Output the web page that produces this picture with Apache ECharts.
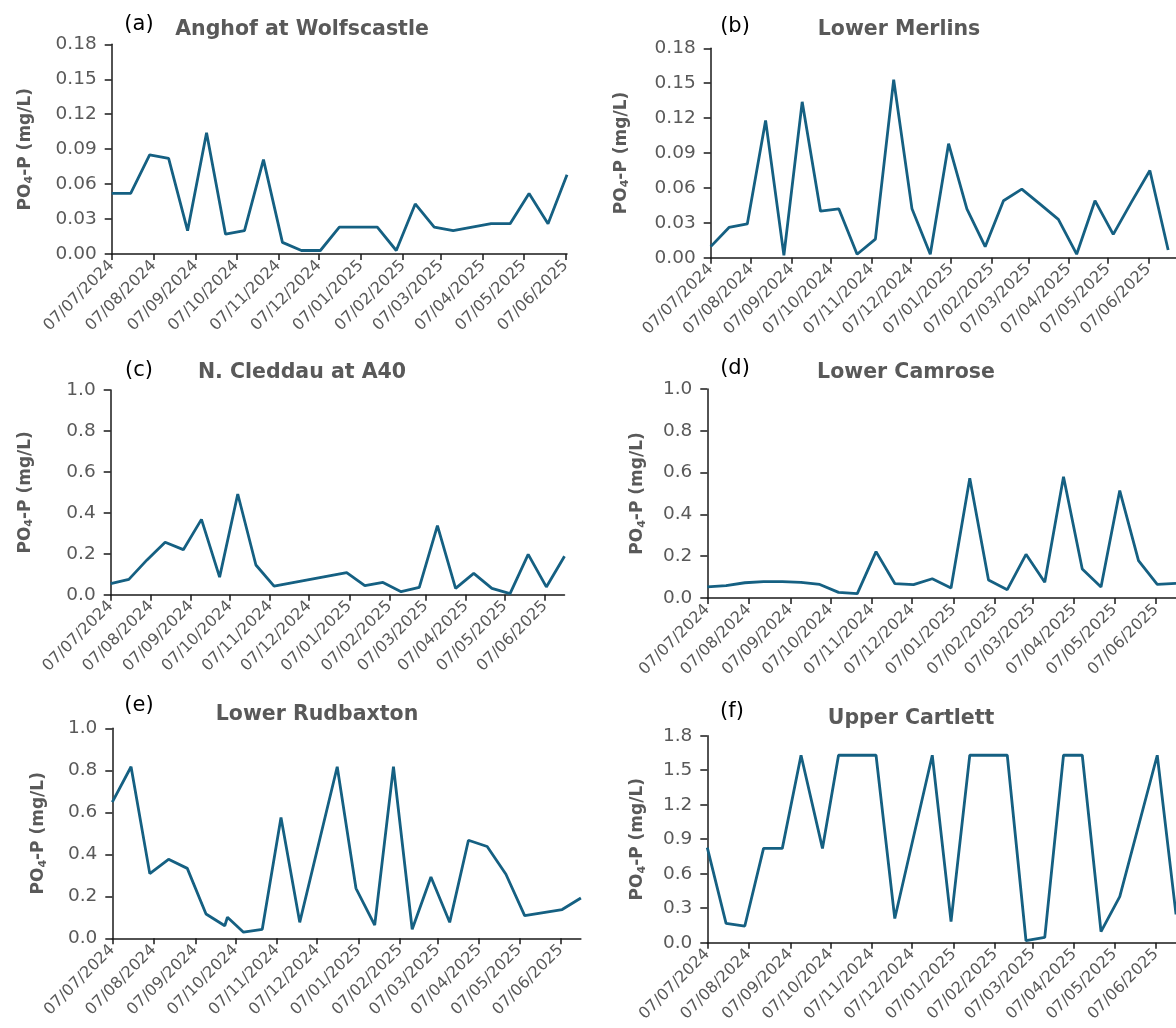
<!DOCTYPE html>
<html><head><meta charset="utf-8">
<script src="https://cdn.jsdelivr.net/npm/echarts@6/dist/echarts.min.js"></script>
<style>html,body{margin:0;padding:0;background:#fff}#c{width:1176px;height:1028px}</style>
</head><body><div id="c"></div>
<script>
// ---------- DATA ----------
const tickLabels = ['07/07/2024','07/08/2024','07/09/2024','07/10/2024','07/11/2024','07/12/2024',
  '07/01/2025','07/02/2025','07/03/2025','07/04/2025','07/05/2025','07/06/2025'];

const datesA = ['07/07/2024','21/07/2024','04/08/2024','18/08/2024','01/09/2024','15/09/2024','29/09/2024',
  '13/10/2024','27/10/2024','10/11/2024','24/11/2024','08/12/2024','22/12/2024','05/01/2025','19/01/2025',
  '02/02/2025','16/02/2025','02/03/2025','16/03/2025','30/03/2025','13/04/2025','27/04/2025','11/05/2025',
  '25/05/2025','08/06/2025'];
const valuesA = [0.052,0.052,0.085,0.082,0.020,0.104,0.017,0.020,0.081,0.010,0.003,0.003,0.023,0.023,0.023,
  0.003,0.043,0.023,0.020,0.023,0.026,0.026,0.052,0.026,0.068];

const datesB = ['07/07/2024','21/07/2024','04/08/2024','18/08/2024','01/09/2024','15/09/2024','29/09/2024',
  '13/10/2024','27/10/2024','10/11/2024','24/11/2024','08/12/2024','22/12/2024','05/01/2025','19/01/2025',
  '02/02/2025','16/02/2025','02/03/2025','16/03/2025','30/03/2025','13/04/2025','27/04/2025','11/05/2025',
  '25/05/2025','08/06/2025','22/06/2025'];
const valuesB = [0.0095,0.026,0.029,0.118,0.002,0.134,0.040,0.042,0.003,0.016,0.153,0.042,0.003,0.098,0.042,
  0.0095,0.049,0.059,0.046,0.033,0.003,0.049,0.020,0.048,0.075,0.0066];

const datesC = ['07/07/2024','21/07/2024','04/08/2024','18/08/2024','01/09/2024','15/09/2024','29/09/2024',
  '13/10/2024','27/10/2024','10/11/2024','05/01/2025','19/01/2025','02/02/2025','16/02/2025','02/03/2025',
  '16/03/2025','30/03/2025','13/04/2025','27/04/2025','11/05/2025','25/05/2025','08/06/2025','22/06/2025'];
const valuesC = [0.054,0.075,0.17,0.256,0.22,0.368,0.086,0.492,0.145,0.042,0.108,0.044,0.060,0.015,0.036,
  0.337,0.031,0.104,0.031,0.005,0.197,0.038,0.188];

const datesD = ['07/07/2024','21/07/2024','04/08/2024','18/08/2024','01/09/2024','15/09/2024','29/09/2024',
  '13/10/2024','27/10/2024','10/11/2024','24/11/2024','08/12/2024','22/12/2024','05/01/2025','19/01/2025',
  '02/02/2025','16/02/2025','02/03/2025','16/03/2025','30/03/2025','13/04/2025','27/04/2025','11/05/2025',
  '25/05/2025','08/06/2025','22/06/2025'];
const valuesD = [0.053,0.059,0.073,0.078,0.078,0.075,0.065,0.027,0.021,0.222,0.069,0.064,0.092,0.048,0.573,
  0.086,0.040,0.209,0.075,0.580,0.139,0.053,0.514,0.179,0.065,0.070];

const datesE = ['07/07/2024','21/07/2024','04/08/2024','18/08/2024','01/09/2024','15/09/2024','29/09/2024',
  '01/10/2024','13/10/2024','27/10/2024','10/11/2024','24/11/2024','22/12/2024','05/01/2025','19/01/2025',
  '02/02/2025','16/02/2025','02/03/2025','16/03/2025','30/03/2025','13/04/2025','27/04/2025','11/05/2025',
  '08/06/2025','22/06/2025'];
const valuesE = [0.648,0.817,0.308,0.376,0.333,0.116,0.060,0.100,0.029,0.043,0.575,0.076,0.817,0.238,0.063,
  0.817,0.043,0.292,0.076,0.467,0.437,0.305,0.108,0.137,0.192];

const datesF = ['07/07/2024','21/07/2024','04/08/2024','18/08/2024','01/09/2024','15/09/2024','01/10/2024',
  '13/10/2024','27/10/2024','10/11/2024','24/11/2024','22/12/2024','05/01/2025','19/01/2025','02/02/2025',
  '16/02/2025','02/03/2025','16/03/2025','30/03/2025','13/04/2025','27/04/2025','11/05/2025','08/06/2025',
  '22/06/2025'];
const valuesF = [0.826,0.168,0.145,0.82,0.82,1.63,0.82,1.63,1.63,1.63,0.21,1.63,0.183,1.63,1.63,1.63,0.017,
  0.046,1.63,1.63,0.096,0.40,1.63,0.246];

const panelLetters = ['(a)','(b)','(c)','(d)','(e)','(f)'];
const panelTitles = ['Anghof at Wolfscastle','Lower Merlins','N. Cleddau at A40','Lower Camrose','Lower Rudbaxton','Upper Cartlett'];
const axisStart = '07/07/2024';
const axisEnds = ['08/06/2025','28/06/2025','22/06/2025','22/06/2025','22/06/2025','22/06/2025'];
const yMax = [0.18,0.18,1.0,1.0,1.0,1.8];
const yStep = [0.03,0.03,0.2,0.2,0.2,0.3];

// ---------- BUILD ----------
function toTs(s){const p=s.split('/').map(Number);return Date.UTC(p[2],p[1]-1,p[0]);}
const tickTs = tickLabels.map(toTs);
const labelMap = {}; tickTs.forEach((t,i)=>labelMap[t]=tickLabels[i]);
const allDates = [datesA,datesB,datesC,datesD,datesE,datesF];
const allVals = [valuesA,valuesB,valuesC,valuesD,valuesE,valuesF];

const FONT = '"DejaVu Sans", "Liberation Sans", sans-serif';
const GRAY = '#595959';
const LINE = '#156082';

// layout (px)
const layout = [
  {l:111.7,t:44.3, w:455.3,h:209.7, gap:77, lx:139,ly:25, tx:302,ty:30},
  {l:710.7,t:48.3, w:465.3,h:209.4, gap:80, lx:735,ly:27, tx:899,ty:30},
  {l:110.7,t:390,  w:453.8,h:204.7, gap:76, lx:139,ly:371, tx:302,ty:373},
  {l:707.3,t:389,  w:468.7,h:209,   gap:60, lx:735,ly:369, tx:906,ty:373},
  {l:112.3,t:728.3,w:468.6,h:210,   gap:64, lx:139,ly:706, tx:317,ty:715},
  {l:707.3,t:735.7,w:468.7,h:207,   gap:60, lx:732,ly:712, tx:911,ty:719}
];

const grid=[],xAxis=[],yAxis=[],series=[],graphic=[];
layout.forEach((L,i)=>{
  grid.push({left:L.l,top:L.t,width:L.w,height:L.h,containLabel:false});
  xAxis.push({type:'value',gridIndex:i,min:toTs(axisStart),max:toTs(axisEnds[i]),
    axisLine:{show:true,onZero:false,lineStyle:{color:'#1a1a1a',width:1.5}},
    axisTick:{show:true,customValues:tickTs,length:6,lineStyle:{color:'#1a1a1a',width:1.5}},
    axisLabel:{customValues:tickTs,rotate:45,margin:9,color:GRAY,fontSize:16,fontFamily:FONT,
      formatter:v=>labelMap[v]||''},
    splitLine:{show:false}});
  const dec = yMax[i]<0.5?2:1;
  yAxis.push({type:'value',gridIndex:i,min:0,max:yMax[i],interval:yStep[i],
    axisLine:{show:true,lineStyle:{color:'#1a1a1a',width:1.5}},
    axisTick:{show:true,length:7,lineStyle:{color:'#1a1a1a',width:1.5}},
    axisLabel:{color:GRAY,fontSize:18.5,fontFamily:FONT,margin:15,formatter:v=>v.toFixed(dec)},
    splitLine:{show:false},
    name:'{b|PO}{s|4}{b|-P (mg/L)}',nameLocation:'middle',nameRotate:90,nameGap:L.gap,
    nameTextStyle:{rich:{b:{fontSize:17,fontWeight:'bold',color:GRAY,fontFamily:FONT},
      s:{fontSize:11,fontWeight:'bold',color:GRAY,fontFamily:FONT,verticalAlign:'bottom',padding:[8,0,0,0]}}}});
  series.push({type:'line',xAxisIndex:i,yAxisIndex:i,showSymbol:false,symbol:'none',
    lineStyle:{color:LINE,width:2.8},itemStyle:{color:LINE},animation:false,clip:true,
    data:allDates[i].map((d,k)=>[toTs(d),allVals[i][k]])});
  graphic.push({type:'text',x:L.lx,y:L.ly,style:{text:panelLetters[i],fill:'#000',font:'21px '+FONT,
    textAlign:'center',textVerticalAlign:'middle',align:'center',verticalAlign:'middle'}});
  graphic.push({type:'text',x:L.tx,y:L.ty,style:{text:panelTitles[i],fill:GRAY,font:'bold 20.5px '+FONT,
    textAlign:'center',textVerticalAlign:'middle',align:'center',verticalAlign:'middle'}});
});

const chart = echarts.init(document.getElementById('c'),null,{renderer:'canvas'});
chart.setOption({animation:false,backgroundColor:'#fff',grid,xAxis,yAxis,series,graphic});
</script></body></html>
